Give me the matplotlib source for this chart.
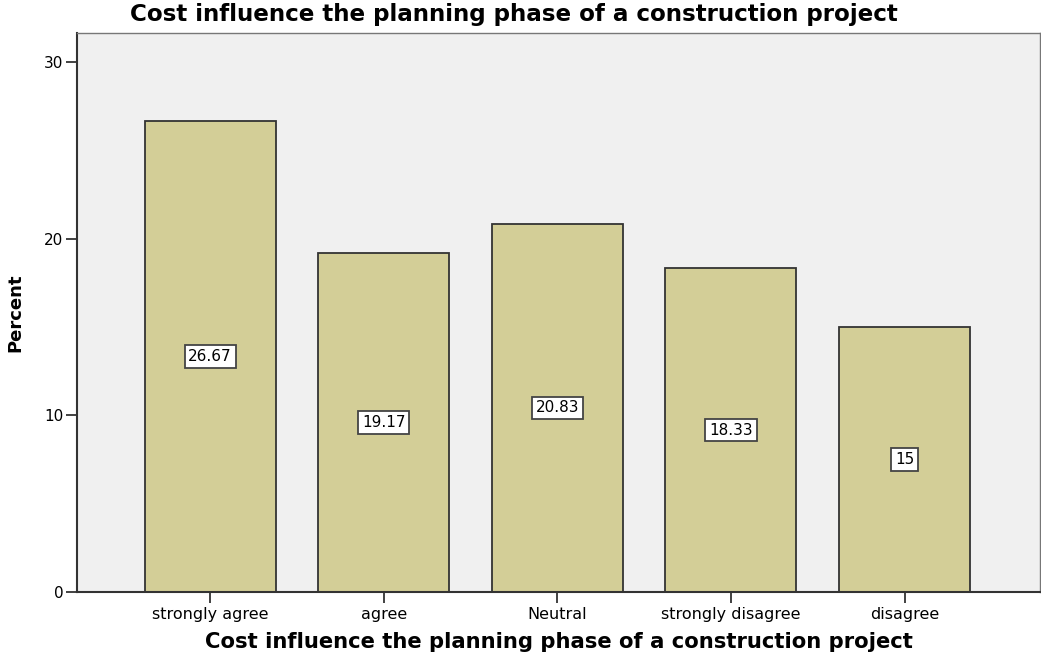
import matplotlib.pyplot as plt
import numpy as np

categories = ['strongly agree', 'agree', 'Neutral', 'strongly disagree', 'disagree']
percent = [26.67, 19.17, 20.83, 18.33, 15]
labels = ['26.67', '19.17', '20.83', '18.33', '15']
title = 'Cost influence the planning phase of a construction project'

fig = plt.figure(figsize=(10.41, 6.56), dpi=100)
ax = fig.add_axes([0.074, 0.0976, 0.925, 0.8521])
ax.set_facecolor('#f0f0f0')

x = np.arange(len(categories))
ax.bar(x, percent, width=0.755, color='#d3ce97', edgecolor='#333333', linewidth=1.3, zorder=2)

for xi, v, lab in zip(x, percent, labels):
    ax.text(xi, v / 2, lab, ha='center', va='center', fontsize=11, color='black',
            bbox=dict(boxstyle='square,pad=0.25', fc='white', ec='#444444', lw=1.3), zorder=3)

ax.set_xlim(-0.767, 4.78)
ax.set_ylim(0, 31.64)
ax.set_yticks([0, 10, 20, 30])
ax.set_xticks(x)
ax.set_xticklabels(categories, fontsize=11.5)
ax.tick_params(axis='y', labelsize=11, length=8, width=1.3, color='#333333', pad=2)
ax.tick_params(axis='x', length=8, width=1.3, color='#333333', pad=3)

for s in ['left', 'bottom']:
    ax.spines[s].set_color('#333333')
    ax.spines[s].set_linewidth(1.5)
for s in ['top', 'right']:
    ax.spines[s].set_color('#777777')
    ax.spines[s].set_linewidth(1.0)

# title sits centred on the figure, not the axes
fig.text(0.494, 1 - 15 / 656, title, ha='center', va='center', fontsize=16.6, fontweight='bold')
ax.set_xlabel(title, fontsize=15.2, fontweight='bold', labelpad=7)
ax.set_ylabel('Percent', fontsize=13, fontweight='bold', labelpad=14)

fig.savefig('out.png', dpi=100)
